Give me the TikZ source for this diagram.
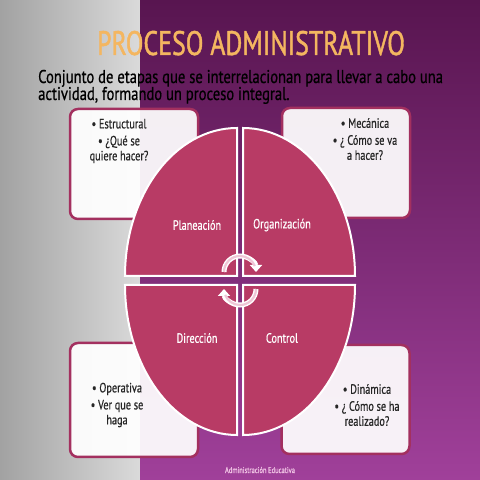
\documentclass[tikz,border=0pt]{standalone}
\usepackage{fontspec}
\setmainfont{PT Sans}[FakeStretch=0.76, FakeBold=0.6]
\newfontfamily\titlefont{PT Sans}[FakeStretch=0.76, FakeBold=1.2]
\newfontfamily\introfont{PT Sans}[FakeStretch=0.79, FakeBold=0.6]
\usetikzlibrary{arrows.meta}
\definecolor{quadfill}{HTML}{B83B65}
\definecolor{boxborder}{HTML}{A3305F}
\definecolor{purptop}{HTML}{581550}
\definecolor{purpmid}{HTML}{76266C}
\definecolor{purpbot}{HTML}{A0409A}
\definecolor{graydark}{HTML}{A2A2A2}
\definecolor{graylight}{HTML}{DADADA}
\definecolor{titlecol}{HTML}{F4B660}
\definecolor{arrowfill}{HTML}{EFC6D6}
\definecolor{footcol}{HTML}{F2C6E6}
\tikzset{
  infobox/.style={draw=boxborder, line width=2.5pt, fill=white, fill opacity=0.93,
    rounded corners=8pt, minimum width=128pt, minimum height=110pt, inner sep=0pt},
  quadrant/.style={fill=quadfill, draw=white, line width=2pt},
  boxtext/.style={font=\fontsize{13.5}{15}\selectfont, align=center, text=black!85, inner sep=0pt},
  quadlabel/.style={font=\fontsize{13.5}{15}\selectfont, text=white, inner sep=0pt},
  cyclearrow/.style={line width=5pt, white, -{Triangle[length=7pt,width=12pt]}},
  cycleinner/.style={line width=2.2pt, arrowfill}
}
\begin{document}
\begin{tikzpicture}[x=1pt,y=1pt]
\useasboundingbox (0,0) rectangle (480,480);
% background
\shade[left color=graydark, right color=graylight] (0,0) rectangle (140,480);
\shade[top color=purptop, middle color=purpmid, bottom color=purpbot] (140,0) rectangle (480,480);
% title and intro text
\node[font=\titlefont\fontsize{34}{36}\selectfont, text=titlecol, anchor=base, inner sep=0pt] (title) at (251,425) {PROCESO ADMINISTRATIVO};
\node[font=\introfont\fontsize{18.5}{20}\selectfont, text=black, anchor=base west, inner sep=0pt] (intro1) at (38,397) {Conjunto de etapas que se interrelacionan para llevar a cabo una};
\node[font=\introfont\fontsize{18.5}{20}\selectfont, text=black, anchor=base west, inner sep=0pt] (intro2) at (38,380) {actividad, formando un proceso integral.};
% boxes
\node[infobox] (tl) at (134,316) {};
\node[infobox] (tr) at (346,317) {};
\node[infobox, minimum height=114pt] (bl) at (134,80) {};
\node[infobox, minimum height=109pt] (br) at (345.5,80.5) {};
% quadrants
\path[quadrant] (237,204) -- (125,204) arc[start angle=180, end angle=90, x radius=112, y radius=148] -- cycle;
\path[quadrant] (243,204) -- (355,204) arc[start angle=0, end angle=90, x radius=112, y radius=148] -- cycle;
\path[quadrant] (237,195) -- (125,195) arc[start angle=180, end angle=270, x radius=112, y radius=150] -- cycle;
\path[quadrant] (243,195) -- (355,195) arc[start angle=0, end angle=-90, x radius=112, y radius=150] -- cycle;
% cycle arrows
\draw[cyclearrow] (224,208) arc[start angle=180, end angle=0, radius=16];
\draw[cycleinner] (224,208) arc[start angle=180, end angle=22, radius=16];
\draw[cyclearrow] (256,191) arc[start angle=0, end angle=-180, radius=16];
\draw[cycleinner] (256,191) arc[start angle=0, end angle=-158, radius=16];
% quadrant labels
\node[quadlabel] (plan) at (197,255) {Planeación};
\node[quadlabel] (org) at (282,255) {Organización};
\node[quadlabel] (dir) at (197,142) {Dirección};
\node[quadlabel] (ctrl) at (282,142) {Control};
% box texts
\node[boxtext] (tlt) at (119,339) {\textbullet\ Estructural\\[2pt]\textbullet\ ¿Qué se\\quiere hacer?};
\node[boxtext] (trt) at (365,341) {\textbullet\ Mecánica\\[2pt]\textbullet\ ¿ Cómo se va\\a hacer?};
\node[boxtext] (blt) at (117,75) {\textbullet\ Operativa\\[2pt]\textbullet\ Ver que se\\haga};
\node[boxtext] (brt) at (367,75) {\textbullet\ Dinámica\\[2pt]\textbullet\ ¿ Cómo se ha\\realizado?};
% footer
\node[font=\fontsize{8.5}{10}\selectfont, text=footcol, inner sep=0pt] (foot) at (260,10) {Administración Educativa};
\end{tikzpicture}
\end{document}
